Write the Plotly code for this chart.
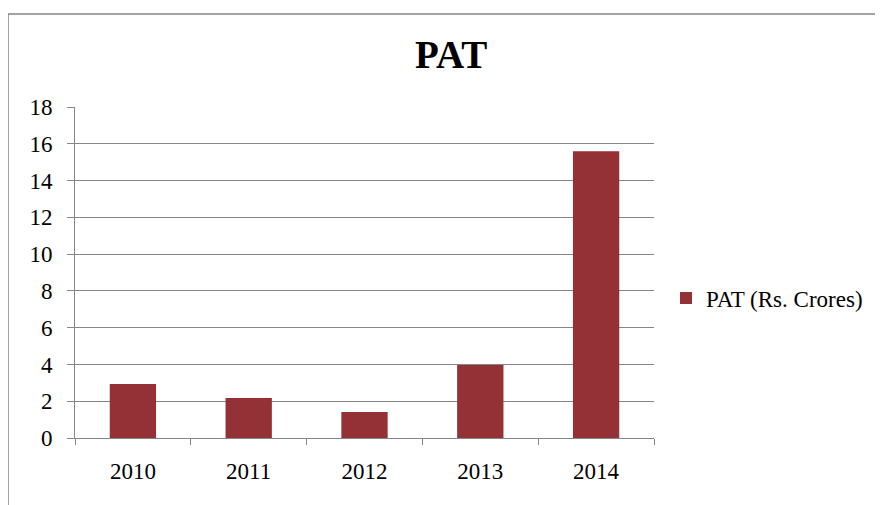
import plotly.graph_objects as go

years = ["2010", "2011", "2012", "2013", "2014"]
pat = [2.93, 2.17, 1.41, 3.97, 15.6]
series_name = "PAT (Rs. Crores)"
y_ticks = [0, 2, 4, 6, 8, 10, 12, 14, 16, 18]

# the page body adds an 8px offset, so figure coords = page coords - 8
W, H = 875, 497
L, R, T, B = 67, 646, 99, 430

fig = go.Figure()
fig.add_trace(go.Bar(x=years, y=pat, name=series_name, marker=dict(color="#943137", line=dict(width=0))))

font = "Liberation Serif, Times New Roman, serif"
fig.update_layout(
    width=W, height=H,
    margin=dict(l=L, r=W - R, t=T, b=H - B, pad=0),
    paper_bgcolor="white", plot_bgcolor="white",
    bargap=0.6,
    font=dict(family=font, size=23, color="black"),
    showlegend=True,
    legend=dict(x=(658 - L) / (R - L), y=(B - 290) / (B - T), xanchor="left", yanchor="middle",
                font=dict(family=font, size=23, color="black"),
                itemwidth=30, tracegroupgap=0, bgcolor="rgba(0,0,0,0)"),
    xaxis=dict(type="category", showline=True, linecolor="#868686", linewidth=1,
               ticks="outside", tickson="boundaries", ticklen=6, tickcolor="#868686",
               tickfont=dict(family=font, size=23), showgrid=False, ticklabelstandoff=12),
    yaxis=dict(range=[0, 18], tickvals=y_ticks, showline=True, linecolor="#868686", linewidth=1,
               ticks="outside", ticklen=7, tickcolor="#868686", showgrid=True,
               gridcolor="#868686", gridwidth=1, zeroline=False, ticklabelstandoff=10,
               tickfont=dict(family=font, size=23)),
    annotations=[dict(text="<b>PAT</b>", x=(443 - L) / (R - L), y=(B - 47) / (B - T),
                      xref="paper", yref="paper",
                      xanchor="center", yanchor="middle", showarrow=False,
                      font=dict(family=font, size=39, color="black"))],
    shapes=[dict(type="rect", xref="paper", yref="paper",
                 x0=(0 - L) / (R - L), x1=(W + 20 - L) / (R - L),
                 y0=(B - (H + 20)) / (B - T), y1=(B - 6) / (B - T),
                 line=dict(color="#868686", width=1.5), fillcolor="rgba(0,0,0,0)", layer="below")],
)

fig.write_html("out.html")
